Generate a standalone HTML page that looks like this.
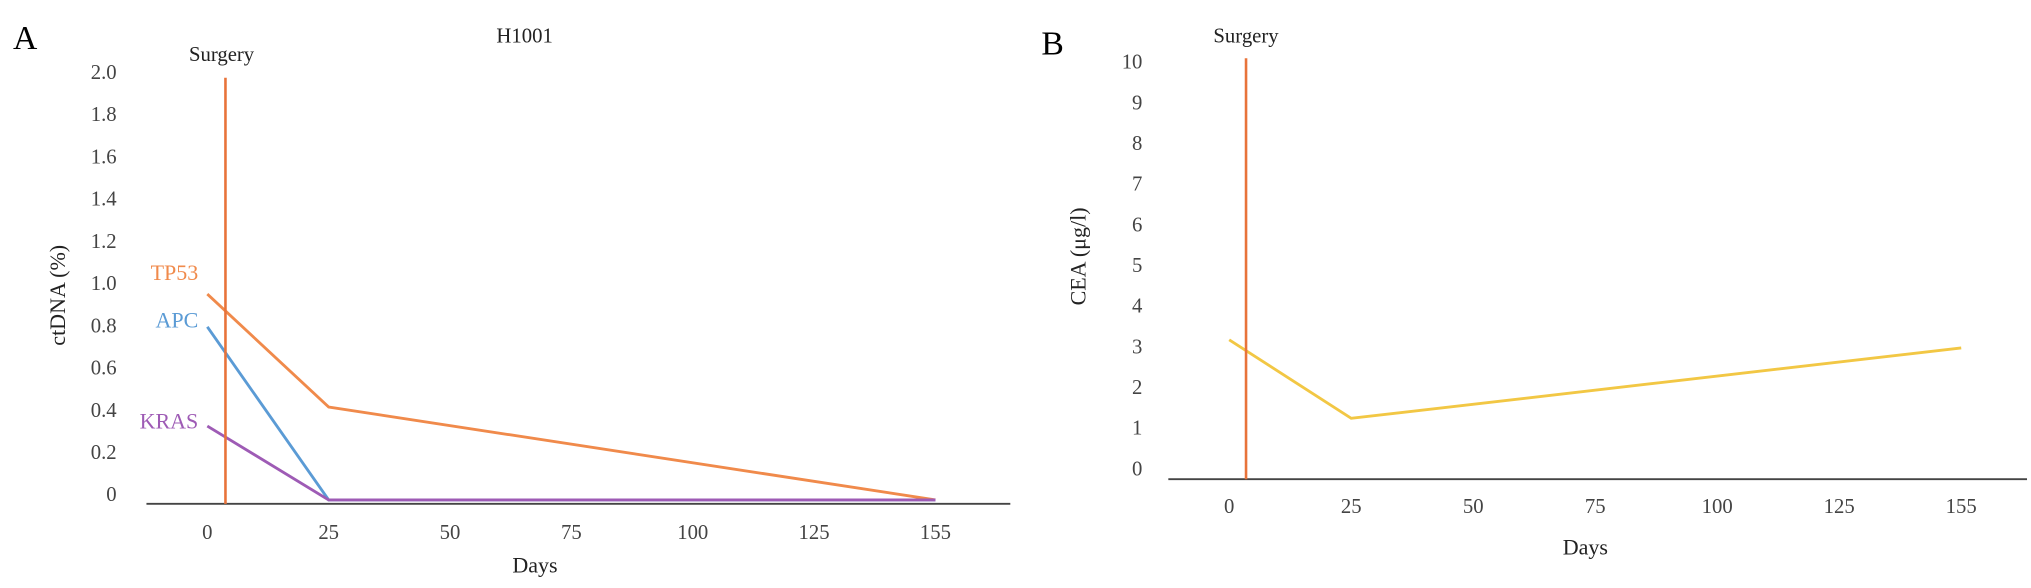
<!DOCTYPE html>
<html><head><meta charset="utf-8"><style>
html,body{margin:0;padding:0;background:#fff;}
svg{display:block;font-family:"Liberation Serif",serif;}
</style></head><body>
<svg id="c" width="2031" height="588" viewBox="0 0 1568 454" xmlns="http://www.w3.org/2000/svg"></svg>
<script>
const xCats=["0","25","50","75","100","125","155"];
const yTicksA=["0","0.2","0.4","0.6","0.8","1.0","1.2","1.4","1.6","1.8","2.0"];
const yTicksB=["0","1","2","3","4","5","6","7","8","9","10"];
const tp53=[0.975,0.44,0.0];
const apc=[0.82,0.0,0.0];
const kras=[0.35,0.0,0.0];
const seriesIdx=[0,1,6];
const cea=[3.3,1.37,3.1];
const NS="http://www.w3.org/2000/svg";
const svg=document.getElementById('c');
function mk(tag,attrs,txt){const e=document.createElementNS(NS,tag);for(const k in attrs)e.setAttribute(k,attrs[k]);if(txt!==undefined)e.textContent=txt;svg.appendChild(e);return e;}
// Panel A scales
const xA=i=>160+i*93.7;
const yA=v=>386-v*163;
const xB=i=>949+i*94.2;
const yB=v=>366-v*31.4;
function panel(xs,ys,ticks,step,axisY,axisX0,axisX1,tickX,xLabY,pfx){
  let l=mk('line',{x1:axisX0,y1:axisY,x2:axisX1,y2:axisY,stroke:'#444','stroke-width':1.5});
  
  
  ticks.forEach((t,i)=>{const e=mk('text',{x:tickX,y:ys(i*step)+1,'text-anchor':'end','font-size':16,fill:'#444'},t);
    
    });
  xCats.forEach((c,i)=>{const e=mk('text',{x:xs(i),y:xLabY,'text-anchor':'middle','font-size':16,fill:'#444'},c);
    
    });
}
function series(xs,ys,vals,color,name){
  const pts=vals.map((v,k)=>xs(seriesIdx[k])+','+ys(v)).join(' ');
  const e=mk('polyline',{points:pts,fill:'none',stroke:color,'stroke-width':2.2});
  
  
}
panel(xA,yA,yTicksA,0.2,389,113,780,90,416,'a');
panel(xB,yB,yTicksB,1,370,902,1565,882,396,'b');
series(xA,yA,tp53,'#F08A4B','tp53-line');
series(xA,yA,apc,'#5B9BD5','apc-line');
series(xA,yA,kras,'#9E5BB5','kras-line');
series(xB,yB,cea,'#F2C744','cea-line');
let s=mk('line',{x1:174,y1:60,x2:174,y2:389,stroke:'#E8733A','stroke-width':2});


s=mk('line',{x1:962,y1:45,x2:962,y2:370,stroke:'#E8733A','stroke-width':2});


const texts=[
 ['panel-a-label',10,38,'start',26,'#000','A',0],
 ['panel-b-label',804,42,'start',26,'#000','B',0],
 ['a-surgery-label',171,47,'middle',16,'#222','Surgery',0],
 ['b-surgery-label',962,33,'middle',16,'#222','Surgery',0],
 ['chart-title',405,33,'middle',16,'#222','H1001',0],
 ['tp53-label',153,216,'end',17,'#F08A4B','TP53',0],
 ['apc-label',153,253,'end',17,'#5B9BD5','APC',0],
 ['kras-label',153,331,'end',17,'#9E5BB5','KRAS',0],
 ['a-x-axis-title',413,442,'middle',17,'#222','Days',0],
 ['b-x-axis-title',1224,428,'middle',17,'#222','Days',0],
];
texts.forEach(t=>{const e=mk('text',{x:t[1],y:t[2],'text-anchor':t[3],'font-size':t[4],fill:t[5]},t[6]);
  
  });
let yt=mk('text',{x:0,y:0,transform:'translate(50,228) rotate(-90)','text-anchor':'middle','font-size':17,fill:'#222'},'ctDNA (%)');


yt=mk('text',{x:0,y:0,transform:'translate(838,198) rotate(-90)','text-anchor':'middle','font-size':17,fill:'#222'},'CEA (μg/l)');


</script>
</body></html>
